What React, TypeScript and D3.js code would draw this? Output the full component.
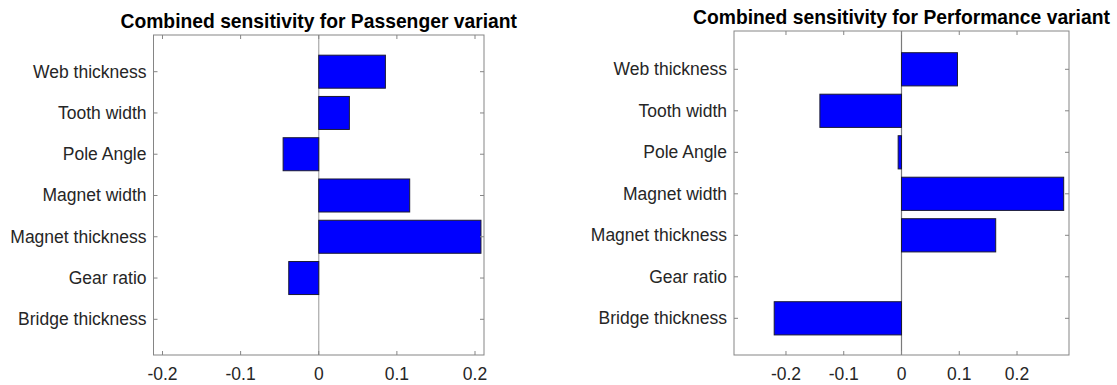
import React from "react";
import * as d3 from "d3";

const categories = [
  "Bridge thickness",
  "Gear ratio",
  "Magnet thickness",
  "Magnet width",
  "Pole Angle",
  "Tooth width",
  "Web thickness",
];
const passengerValues = [0, -0.0384, 0.2076, 0.1164, -0.0456, 0.0392, 0.0853];
const performanceValues = [-0.2204, 0, 0.1631, 0.2808, -0.0058, -0.1413, 0.0969];
const xTicks = [-0.2, -0.1, 0, 0.1, 0.2];
const xTickLabels = ["-0.2", "-0.1", "0", "0.1", "0.2"];
const titles = [
  "Combined sensitivity for Passenger variant",
  "Combined sensitivity for Performance variant",
];

const FONT = "'Liberation Sans', Arial, Helvetica, sans-serif";
const TEXT = "#262626";
const AXIS = "#858585";

type PanelProps = {
  title: string;
  values: number[];
  left: number;
  right: number;
  top: number;
  bottom: number;
  xLim: number;
  yDomain: [number, number];
  titleY: number;
  baseColor: string;
};

function Panel({ title, values, left, right, top, bottom, xLim, yDomain, titleY, baseColor }: PanelProps) {
  const x = d3.scaleLinear().domain([-xLim, xLim]).range([left, right]);
  const y = d3.scaleLinear().domain(yDomain).range([bottom, top]);
  const barW = 0.8;
  const tickLen = 4;
  const pos = categories.map((_, i) => i + 1);
  return (
    <g>
      <rect x={left} y={top} width={right - left} height={bottom - top} fill="#fff" />
      <line x1={x(0)} x2={x(0)} y1={top} y2={bottom} stroke={baseColor} strokeWidth={1.2} />
      {values.map((v, i) =>
        v === 0 ? null : (
          <rect
            key={i}
            x={Math.min(x(0), x(v))}
            y={y(pos[i] + barW / 2)}
            width={Math.abs(x(v) - x(0))}
            height={y(pos[i] - barW / 2) - y(pos[i] + barW / 2)}
            fill="#0000ff"
            stroke="#1a1a33"
            strokeWidth={1}
          />
        )
      )}
      <rect x={left} y={top} width={right - left} height={bottom - top} fill="none" stroke={AXIS} strokeWidth={1} />
      {xTicks.map((t, i) => (
        <g key={"xt" + i}>
          <line x1={x(t)} x2={x(t)} y1={bottom} y2={bottom - tickLen} stroke={AXIS} />
          <line x1={x(t)} x2={x(t)} y1={top} y2={top + tickLen} stroke={AXIS} />
          <text x={x(t)} y={380} textAnchor="middle" fontFamily={FONT} fontSize={17.5} fill={TEXT}>
            {xTickLabels[i]}
          </text>
        </g>
      ))}
      {categories.map((c, i) => (
        <g key={"yt" + i}>
          <line x1={left} x2={left + tickLen} y1={y(pos[i])} y2={y(pos[i])} stroke={AXIS} />
          <line x1={right} x2={right - tickLen} y1={y(pos[i])} y2={y(pos[i])} stroke={AXIS} />
          <text x={left - 7} y={y(pos[i]) + 6} textAnchor="end" fontFamily={FONT} fontSize={17.5} fill={TEXT}>
            {c}
          </text>
        </g>
      ))}
      <text
        x={(left + right) / 2}
        y={titleY}
        textAnchor="middle"
        fontFamily={FONT}
        fontSize={19.3}
        fontWeight="bold"
        fill="#000"
      >
        {title}
      </text>
    </g>
  );
}

export default function App() {
  return (
    <svg
      width={1117}
      height={385}
      style={{ position: "absolute", left: 0, top: 0, background: "#fff" }}
    >
      <rect width={1117} height={385} fill="#fff" />
      <Panel
        title={titles[0]}
        values={passengerValues}
        left={153.5}
        right={484}
        top={35}
        bottom={355}
        xLim={0.2115}
        yDomain={[0.135, 7.889]}
        titleY={28}
        baseColor="#a8a8a8"
      />
      <Panel
        title={titles[1]}
        values={performanceValues}
        left={734}
        right={1069}
        top={31}
        bottom={355}
        xLim={0.29}
        yDomain={[0.116, 7.923]}
        titleY={24}
        baseColor="#7a7a7a"
      />
    </svg>
  );
}
